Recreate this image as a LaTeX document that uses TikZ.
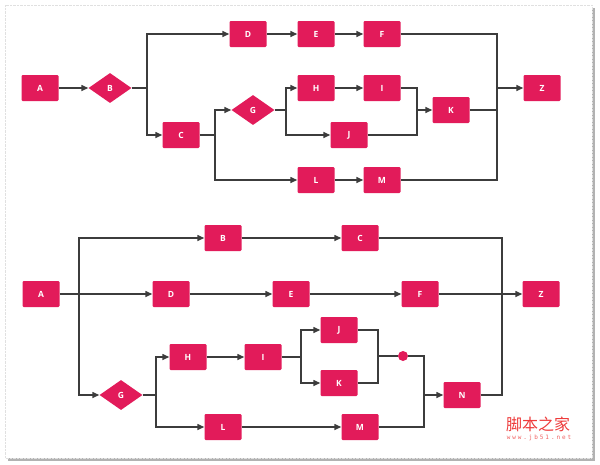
\documentclass[tikz,border=0pt]{standalone}
\usepackage{fontspec}
\setmainfont{Open Sans}
\newfontfamily\cjk{Noto Sans CJK SC}
\newfontfamily\wmfont[LetterSpace=32]{DejaVu Sans Mono}
\usetikzlibrary{arrows.meta,shapes.geometric}
\definecolor{boxred}{HTML}{E21B5A}
\definecolor{linegray}{HTML}{3C3C3C}
\definecolor{wmred}{HTML}{EE3B3B}
\tikzset{
  box/.style={rectangle, rounded corners=1.2pt, fill=boxred, minimum width=37pt, minimum height=26pt, inner sep=0pt, text=white, font=\fontsize{8.5}{9}\selectfont\bfseries},
  dia/.style={diamond, fill=boxred, minimum width=43pt, minimum height=30pt, aspect=1.45, inner sep=0pt, text=white, font=\fontsize{8.5}{9}\selectfont\bfseries},
  dot/.style={circle, fill=boxred, minimum size=10pt, inner sep=0pt},
  ln/.style={draw=linegray, line width=1.4pt},
  ar/.style={ln, -{Triangle[length=7pt,width=6pt]}},
}
\begin{document}
\begin{tikzpicture}[x=1pt,y=-1pt]
\useasboundingbox (0,0) rectangle (600,464);
% frame
\fill[black!30] (8,8) rectangle (595,461);
\draw[fill=white, draw=black!12, densely dotted] (5,5) rectangle (592,458);

% ---------- top diagram ----------
\node[box] (A) at (40,88) {A};
\node[dia] (B) at (110,88) {B};
\node[box] (C) at (181,135) {C};
\node[box] (D) at (248,34) {D};
\node[box] (E) at (316,34) {E};
\node[box] (F) at (382,34) {F};
\node[dia] (G) at (253,110) {G};
\node[box] (H) at (316,88) {H};
\node[box] (I) at (382,88) {I};
\node[box] (J) at (349,135) {J};
\node[box] (K) at (451,110) {K};
\node[box] (L) at (316,180) {L};
\node[box] (M) at (382,180) {M};
\node[box] (Z) at (542,88) {Z};

\coordinate (b1) at (147,88);
\coordinate (c1) at (215,135);
\coordinate (g1) at (286,110);
\coordinate (i1) at (417,110);
\coordinate (z1) at (497,88);

\draw[ar] (A) -- (B);
\draw[ln] (B.east) -- (b1);
\draw[ar] (b1) |- (D.west);
\draw[ar] (b1) |- (C.west);
\draw[ln] (C.east) -- (c1);
\draw[ar] (c1) |- (G.west);
\draw[ar] (c1) |- (L.west);
\draw[ar] (D) -- (E);
\draw[ar] (E) -- (F);
\draw[ln] (G.east) -- (g1);
\draw[ar] (g1) |- (H.west);
\draw[ar] (g1) |- (J.west);
\draw[ar] (H) -- (I);
\draw[ln] (I.east) -| (i1);
\draw[ln] (J.east) -| (i1);
\draw[ar] (i1) -- (K.west);
\draw[ar] (L) -- (M);
\draw[ln] (F.east) -| (z1);
\draw[ln] (M.east) -| (z1);
\draw[ln] (K.east) -| (z1);
\draw[ar] (z1) -- (Z.west);

% ---------- bottom diagram ----------
\node[box] (A2) at (41,294) {A};
\node[box] (B2) at (223,238) {B};
\node[box] (C2) at (360,238) {C};
\node[box] (D2) at (171,294) {D};
\node[box] (E2) at (291,294) {E};
\node[box] (F2) at (420,294) {F};
\node[dia] (G2) at (121,395) {G};
\node[box] (H2) at (188,357) {H};
\node[box] (I2) at (263,357) {I};
\node[box] (J2) at (339,330) {J};
\node[box] (K2) at (339,383) {K};
\node[box] (L2) at (223,427) {L};
\node[box] (M2) at (360,427) {M};
\node[box] (N2) at (462,395) {N};
\node[box] (Z2) at (541,294) {Z};
\node[dot] (P2) at (403,356) {};

\coordinate (a2) at (79,294);
\coordinate (g2) at (156,395);
\coordinate (i2) at (301,357);
\coordinate (j2) at (378,356);
\coordinate (p2) at (424,395);
\coordinate (z2) at (502,294);

\draw[ar] (A2) -- (D2);
\draw[ar] (a2) |- (B2.west);
\draw[ar] (a2) |- (G2.west);
\draw[ar] (B2) -- (C2);
\draw[ar] (D2) -- (E2);
\draw[ar] (E2) -- (F2);
\draw[ln] (G2.east) -- (g2);
\draw[ar] (g2) |- (H2.west);
\draw[ar] (g2) |- (L2.west);
\draw[ar] (H2) -- (I2);
\draw[ln] (I2.east) -- (i2);
\draw[ar] (i2) |- (J2.west);
\draw[ar] (i2) |- (K2.west);
\draw[ln] (J2.east) -| (j2);
\draw[ln] (K2.east) -| (j2);
\draw[ln] (j2) -- (P2);
\draw[ln] (P2) -| (p2);
\draw[ln] (M2.east) -| (p2);
\draw[ar] (p2) -- (N2.west);
\draw[ar] (L2) -- (M2);
\draw[ln] (C2.east) -| (z2);
\draw[ln] (N2.east) -| (z2);
\draw[ar] (F2) -- (Z2);

% watermark
\node[text=wmred, font=\cjk\fontsize{16}{16}\selectfont, inner sep=0pt] (wm) at (538,424) {脚本之家};
\node[text=wmred!80, font=\wmfont\fontsize{6}{6}\selectfont, inner sep=0pt] (wm2) at (539,438) {www.jb51.net};
\end{tikzpicture}
\end{document}
